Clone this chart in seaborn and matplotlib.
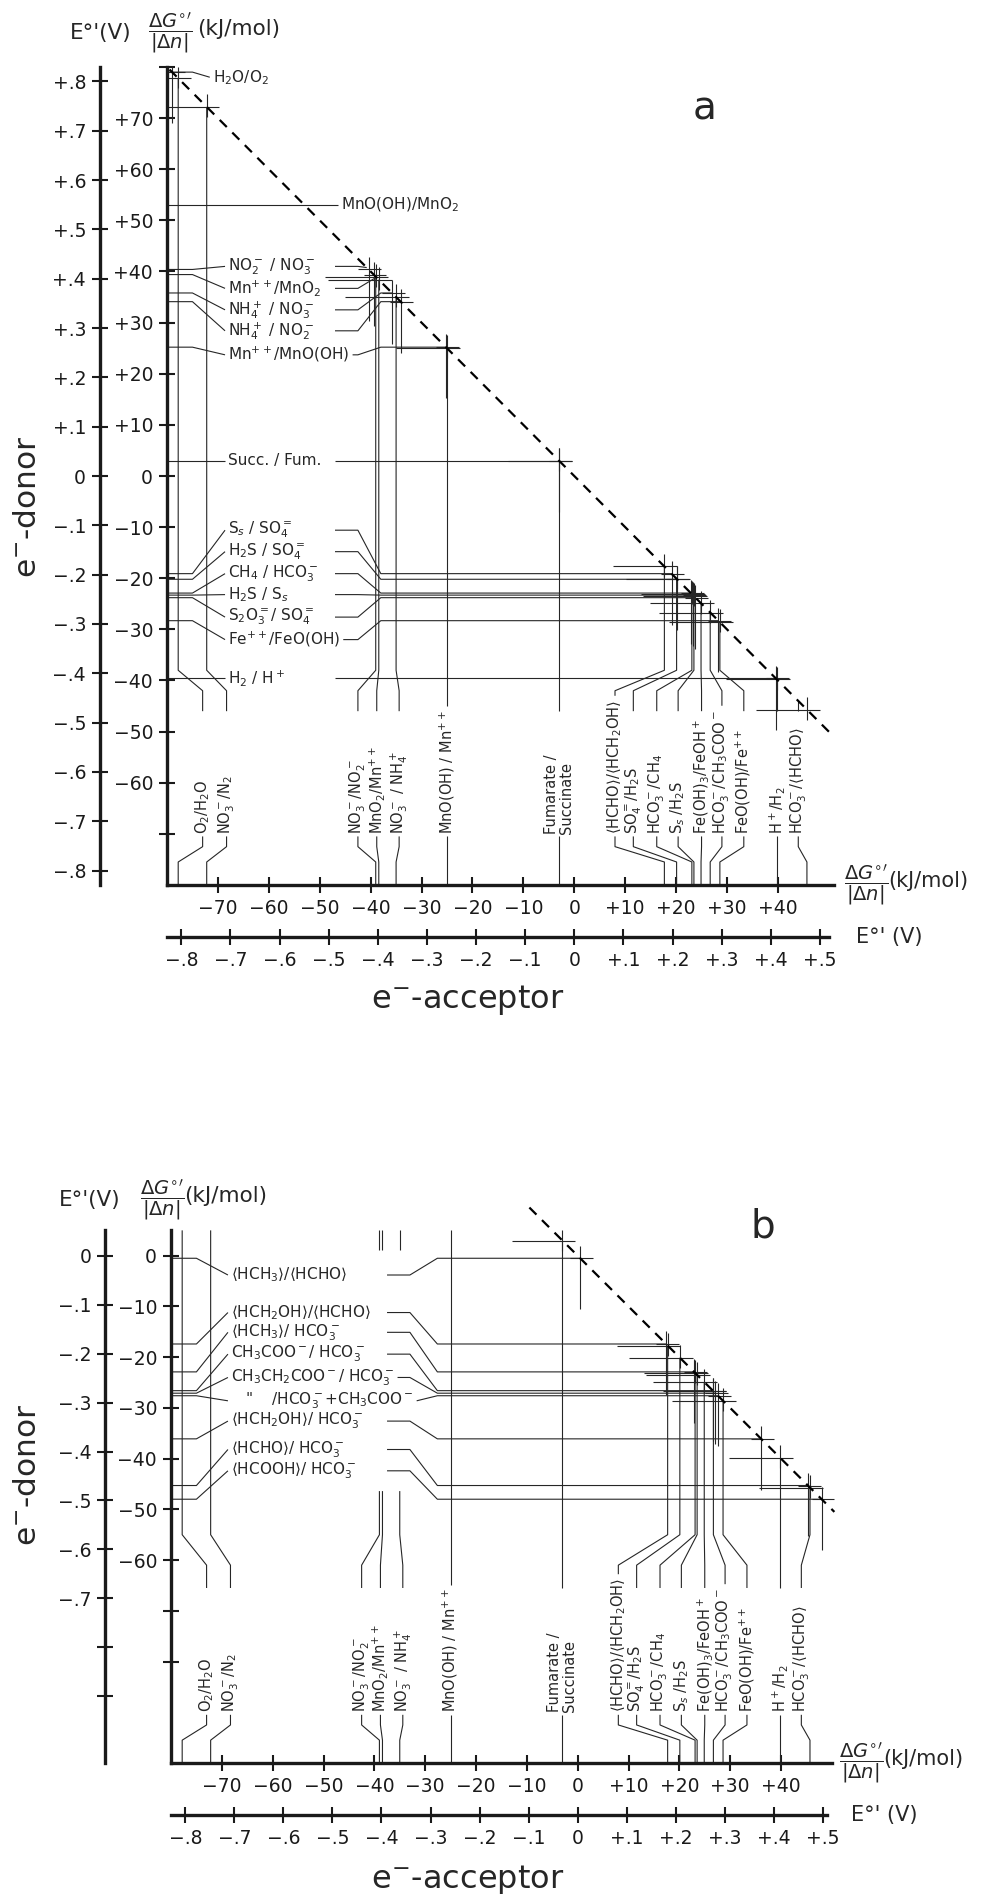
import numpy as np
import matplotlib
matplotlib.use("Agg")
import matplotlib.pyplot as plt
import seaborn as sns

sns.set_theme(style="white")
plt.rcParams['font.family'] = ['DejaVu Sans']
plt.rcParams['mathtext.fontset'] = 'dejavusans'

F = 96.485  # kJ/mol per volt and electron

# e- acceptors on the bottom axis, dG/|dn| in kJ/mol (same couples in both panels)
acceptor_names = [
    "O$_2$/H$_2$O", "NO$_3^-$/N$_2$", "NO$_3^-$/NO$_2^-$", "MnO$_2$/Mn$^{++}$",
    "NO$_3^-$ / NH$_4^+$", "MnO(OH) / Mn$^{++}$", "Fumarate /\nSuccinate",
    "\u27e8HCHO\u27e9/\u27e8HCH$_2$OH\u27e9", "SO$_4^{=}$/H$_2$S", "HCO$_3^-$/CH$_4$",
    "S$_s$ /H$_2$S", "Fe(OH)$_3$/FeOH$^+$", "HCO$_3^-$/CH$_3$COO$^-$",
    "FeO(OH)/Fe$^{++}$", "H$^+$/H$_2$", "HCO$_3^-$/\u27e8HCHO\u27e9",
]
acceptor_dg = [-77.8, -72.2, -39.0, -38.4, -35.0, -25.0, -3.0, 17.7, 20.1,
               23.1, 23.5, 24.9, 26.7, 28.6, 39.8, 45.7]
# where the rotated labels sit (layout)
acceptor_label_x = [-73.0, -68.3, -42.5, -38.8, -34.4, -25.0, -3.0, 8.0, 11.6,
                    16.2, 20.4, 25.0, 29.0, 33.3, 39.8, 44.0]

# panel a: e- donors on the left axis
donor_names_a = [
    "H$_2$O/O$_2$", "MnO(OH)/MnO$_2$", "NO$_2^-$ / NO$_3^-$", "Mn$^{++}$/MnO$_2$",
    "NH$_4^+$ / NO$_3^-$", "NH$_4^+$ / NO$_2^-$", "Mn$^{++}$/MnO(OH)", "Succ. / Fum.",
    "S$_s$ / SO$_4^{=}$", "H$_2$S / SO$_4^{=}$", "CH$_4$ / HCO$_3^-$", "H$_2$S / S$_s$",
    "S$_2$O$_3^{=}$/ SO$_4^{=}$", "Fe$^{++}$/FeO(OH)", "H$_2$ / H$^+$",
]
donor_dg_a = [79.0, 53.0, 40.4, 39.4, 35.8, 34.1, 25.2, 3.0, -19.1, -20.2,
              -22.9, -23.3, -23.8, -28.3, -39.6]
donor_label_y_a = [78.0, 53.0, 41.0, 36.7, 32.5, 28.4, 23.7, 3.0, -10.6, -14.8,
                   -19.1, -23.2, -27.6, -32.0, -39.6]
donor_label_x_a = [-71.0, -45.8] + [-68.0] * 13

# panel b: e- donors on the left axis
donor_names_b = [
    "\u27e8HCH$_3$\u27e9/\u27e8HCHO\u27e9", "\u27e8HCH$_2$OH\u27e9/\u27e8HCHO\u27e9",
    "\u27e8HCH$_3$\u27e9/ HCO$_3^-$", "CH$_3$COO$^-$/ HCO$_3^-$",
    "CH$_3$CH$_2$COO$^-$/ HCO$_3^-$", '   "    /HCO$_3^-$+CH$_3$COO$^-$',
    "\u27e8HCH$_2$OH\u27e9/ HCO$_3^-$", "\u27e8HCHO\u27e9/ HCO$_3^-$",
    "\u27e8HCOOH\u27e9/ HCO$_3^-$",
]
donor_dg_b = [-0.5, -17.4, -22.9, -26.6, -27.1, -27.6, -36.1, -45.3, -48.0]
donor_label_y_b = [-3.8, -11.2, -15.1, -19.4, -24.0, -28.6, -32.6, -38.2, -42.4]
donor_label_x_b = [-68.2] * 9

LINE = '#262626'
LW = 0.8
AXW = 2.4
TICK_FS = 13.5
LABEL_FS = 10.5
W, H = 988, 1894


def dg_fmt(v):
    if v == 0:
        return "0"
    return f"+{v:g}" if v > 0 else f"\u2212{-v:g}"


def e_fmt(v):
    if abs(v) < 1e-9:
        return "0"
    return ("+" if v > 0 else "\u2212") + f"{abs(v):.1f}".lstrip("0")


def clip_to_diag(pts):
    # follow a polyline until it meets the x + y = 0 diagonal
    if pts[0][0] + pts[0][1] >= 0:
        return None
    out = [pts[0]]
    for (x0, y0), (x1, y1) in zip(pts[:-1], pts[1:]):
        s0, s1 = x0 + y0, x1 + y1
        if s1 >= 0:
            t = -s0 / (s1 - s0)
            out.append((x0 + t * (x1 - x0), y0 + t * (y1 - y0)))
            return out
        out.append((x1, y1))
    return out


def line(ax, pts):
    xs, ys = zip(*pts)
    ax.plot(xs, ys, color=LINE, lw=LW, solid_capstyle='butt')


fig = plt.figure(figsize=(W / 100, H / 100), dpi=100)

lay_a = dict(rect=[167 / W, 1 - 885 / H, 672 / W, 818 / H],
             ybot=-80, ytop=80, ylim_top=80, xleft=-80, xright=52, xspine=51,
             e_loc_y=-0.0997, e_loc_x=-0.0636,
             lab_bot=-70, low_k0=-75.5, low_k1=-72.5, stub=-46, klo=-42, khi=-38,
             d_k0=-75, d_stub=-47, d_k1=-42.5, d_k2=-38, brk=False)
lay_b = dict(rect=[171 / W, 1 - 1763 / H, 671 / W, 558 / H],
             ybot=-100, ytop=5, ylim_top=10, xleft=-80, xright=52, xspine=50,
             e_loc_y=-0.098, e_loc_x=-0.0932,
             lab_bot=-90, low_k0=-95.5, low_k1=-92.5, stub=-65.5, klo=-61, khi=-55,
             d_k0=-75, d_stub=-37.5, d_k1=-33, d_k2=-27.6, brk=True)


def panel(lay, names_d, dg_d, ly_d, lx_d, yticks, ylab, eticks, elab):
    ax = fig.add_axes(lay['rect'])
    ax.set_xlim(lay['xleft'], lay['xright'])
    ax.set_ylim(lay['ybot'], lay['ylim_top'])
    ax.set_facecolor('none')
    for s in ['top', 'right']:
        ax.spines[s].set_visible(False)
    for s in ['left', 'bottom']:
        ax.spines[s].set_linewidth(AXW)
        ax.spines[s].set_color('#1a1a1a')
    ax.spines['left'].set_bounds(lay['ybot'], lay['ytop'])
    ax.spines['bottom'].set_bounds(lay['xleft'], lay['xspine'])

    ax.set_yticks(yticks, [dg_fmt(v) if v in ylab else '' for v in yticks])
    xt = list(range(-70, 41, 10))
    ax.set_xticks(xt, [dg_fmt(v) for v in xt])
    ax.tick_params(left=True, bottom=True, direction='inout', length=12, width=1.5,
                   labelsize=TICK_FS, pad=4, colors='#1a1a1a')

    sy = ax.secondary_yaxis(lay['e_loc_y'], functions=(lambda g: g / F, lambda e: e * F))
    sy.set_yticks(eticks, [e_fmt(v) if round(v, 1) in elab else '' for v in eticks])
    sy.spines['left'].set_bounds(lay['ybot'] / F, lay['ytop'] / F)
    sy.spines['left'].set_linewidth(AXW)
    sy.spines['left'].set_color('#1a1a1a')
    sy.tick_params(axis='y', left=True, direction='inout', length=12, width=1.5,
                   labelsize=TICK_FS, pad=4, colors='#1a1a1a')

    ex = np.round(np.arange(-0.8, 0.51, 0.1), 1)
    sx = ax.secondary_xaxis(lay['e_loc_x'], functions=(lambda g: g / F, lambda e: e * F))
    sx.set_xticks(ex, [e_fmt(v) for v in ex])
    sx.spines['bottom'].set_bounds(lay['xleft'] / F, (lay['xspine'] - 1) / F)
    sx.spines['bottom'].set_linewidth(AXW)
    sx.spines['bottom'].set_color('#1a1a1a')
    sx.tick_params(axis='x', bottom=True, direction='inout', length=12, width=1.5,
                   labelsize=TICK_FS, pad=4, colors='#1a1a1a')

    # labels first, so their extents can be measured
    d_txt = [ax.text(lx, ly, n, ha='left', va='center', fontsize=LABEL_FS + 0.5)
             for n, ly, lx in zip(names_d, ly_d, lx_d)]
    a_txt = [ax.text(lx, lay['lab_bot'], n, rotation=90, ha='center', va='bottom',
                     fontsize=LABEL_FS, linespacing=1.0, multialignment='left')
             for n, lx in zip(acceptor_names, acceptor_label_x)]
    fig.canvas.draw()
    rend = fig.canvas.get_renderer()
    inv = ax.transData.inverted()

    def extent(t):
        bb = t.get_window_extent(rend)
        (x0, y0), (x1, y1) = inv.transform([(bb.x0, bb.y0), (bb.x1, bb.y1)])
        return x0, y0, x1, y1

    # donors: horizontal lines from the left axis to the diagonal
    for d, ly, lx, t in zip(dg_d, ly_d, lx_d, d_txt):
        x0, _, x1, _ = extent(t)
        inline = lx > -60
        if inline:
            line(ax, [(lay['xleft'], d), (x0 - 0.6, d)])
        else:
            end = x0 - 0.6
            line(ax, [(lay['xleft'], d), (min(lay['d_k0'], end - 3), d), (end, ly)])
            s = max(lay['d_stub'], x1 + 0.6)
            path = clip_to_diag([(s, ly), (max(lay['d_k1'], s), ly),
                                 (lay['d_k2'], d), (200, d)])
            if path:
                line(ax, path)
        cx, cy = -d, d
        if cy <= lay['ytop'] and not inline:
            line(ax, [(max(cx - 2, lay['xleft']), cy), (cx + 2.5, cy)])
            line(ax, [(cx, cy - 10), (cx, min(cy + 2.5, lay['ytop']))])

    # acceptors: vertical lines from the bottom axis to the diagonal
    band_hi = max(ly_d) + 5
    band_lo = min(ly_d) - 4
    for a, lx, t in zip(acceptor_dg, acceptor_label_x, a_txt):
        _, y0, _, y1 = extent(t)
        line(ax, [(a, lay['ybot']), (a, lay['low_k0']), (lx, lay['low_k1']),
                  (lx, y0 - 0.5)])
        start = max(lay['stub'], y1 + 0.8)
        klo = max(lay['klo'], start)
        khi = max(lay['khi'], klo)
        path = clip_to_diag([(lx, start), (lx, klo), (a, khi), (a, 200)])
        if path is None:
            continue
        if path[-1][1] > lay['ytop']:
            path[-1] = (path[-1][0], lay['ytop'])
        if lay['brk'] and -69 < a < -33:
            head = [p for p in path if p[1] <= band_lo] + [(a, band_lo)]
            line(ax, head)
            line(ax, [(a, band_hi), path[-1]])
        else:
            line(ax, path)
        cx, cy = a, -a
        if cy <= lay['ytop']:
            line(ax, [(max(cx - 10, lay['xleft']), cy), (cx + 2.5, cy)])
            line(ax, [(cx, cy - 2), (cx, min(cy + 2.5, lay['ytop']))])

    # energy balance diagonal (donor + acceptor = 0)
    diag = np.array([-lay['ylim_top'] + 0.5, lay['xright'] - 1.5])
    sns.lineplot(x=diag, y=-diag, ax=ax, color='black', lw=1.6,
                 linestyle=(0, (4.5, 3.5)))
    return ax


ax_a = panel(lay_a, donor_names_a, donor_dg_a, donor_label_y_a, donor_label_x_a,
             list(range(80, -71, -10)), set(range(70, -61, -10)),
             np.round(np.arange(0.8, -0.81, -0.1), 1),
             set(np.round(np.arange(0.8, -0.81, -0.1), 1)))
ax_b = panel(lay_b, donor_names_b, donor_dg_b, donor_label_y_b, donor_label_x_b,
             list(range(0, -81, -10)), set(range(0, -61, -10)),
             np.round(np.arange(0.0, -0.91, -0.1), 1),
             set(np.round(np.arange(0.0, -0.71, -0.1), 1)))


def ftxt(x, y, s, **kw):
    fig.text(x / W, 1 - y / H, s, **kw)


frac = r"$\dfrac{\Delta G^{\circ\prime}}{|\Delta n|}$"
for (ex, fx, kx, y) in [(101, 170, 197, 33), (90, 162, 184, 1200)]:
    ftxt(ex, y, "E\u00b0'(V)", fontsize=15.5, ha='center', va='center')
    ftxt(fx, y, frac, fontsize=14, ha='center', va='center')
    ftxt(kx, y - 4, "(kJ/mol)", fontsize=15.5, ha='left', va='center')

for (fx, y, ey) in [(866, 885, 937), (861, 1763, 1815)]:
    ftxt(fx, y, frac, fontsize=14, ha='center', va='center')
    ftxt(fx + 22, y - 4, "(kJ/mol)", fontsize=15, ha='left', va='center')
    ftxt(fx - 10, ey, "E\u00b0' (V)", fontsize=15, ha='left', va='center')

for y in [1000, 1880]:
    ftxt(468, y, "e$^{-}$-acceptor", fontsize=23, ha='center', va='center')
for y in [507, 1475]:
    ftxt(28, y, "e$^{-}$-donor", fontsize=22.5, ha='center', va='center', rotation=90)

ftxt(705, 108, "a", fontsize=28, ha='center', va='center')
ftxt(763, 1226, "b", fontsize=28, ha='center', va='center')

fig.savefig("out.png", dpi=100, facecolor='white')
